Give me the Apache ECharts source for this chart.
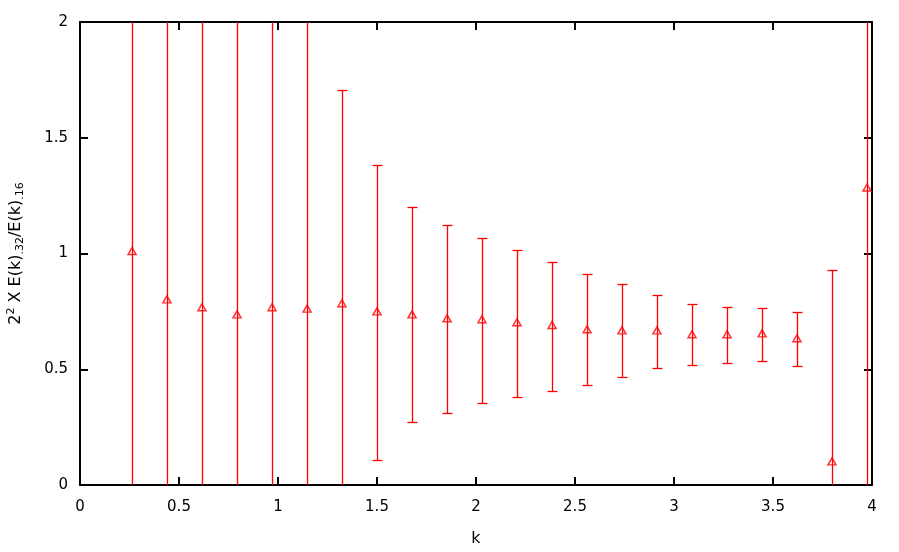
<!DOCTYPE html>
<html>
<head>
<meta charset="utf-8">
<script src="https://cdn.jsdelivr.net/npm/echarts@6/dist/echarts.min.js"></script>
<style>html,body{margin:0;padding:0;background:#fff}#c{width:899px;height:552px}</style>
</head>
<body>
<div id="c"></div>
<script>
// k positions
const kValues = [0.263, 0.439, 0.616, 0.793, 0.970, 1.147, 1.323, 1.500, 1.677, 1.854, 2.030,
                 2.207, 2.384, 2.561, 2.737, 2.914, 3.091, 3.268, 3.445, 3.621, 3.798, 3.975];
// ratio values
const ratioValues = [1.011, 0.802, 0.768, 0.737, 0.768, 0.762, 0.785, 0.750, 0.737, 0.720, 0.716,
                     0.703, 0.691, 0.673, 0.668, 0.668, 0.651, 0.651, 0.655, 0.634, 0.102, 1.285];
// error bar bounds
const lowerValues = [-2.5, -1.6, -1.3, -1.1, -0.9, -0.7, -0.135, 0.110, 0.270, 0.313, 0.356,
                     0.382, 0.408, 0.434, 0.468, 0.507, 0.520, 0.529, 0.537, 0.516, -0.726, -0.5];
const upperValues = [4.5, 3.2, 2.8, 2.6, 2.4, 2.2, 1.705, 1.384, 1.203, 1.125, 1.069,
                     1.017, 0.965, 0.913, 0.870, 0.822, 0.784, 0.771, 0.766, 0.749, 0.930, 3.1];
const xTicks = {min: 0, max: 4, interval: 0.5};
const yTicks = {min: 0, max: 2, interval: 0.5};

const RED = '#ff0000';
const FONT = 'DejaVu Sans';
const chart = echarts.init(document.getElementById('c'), null, {renderer: 'canvas'});

const errData = kValues.map((k, i) => [k, lowerValues[i], upperValues[i]]);
const ptData = kValues.map((k, i) => [k, ratioValues[i]]);

function axisCommon(extra) {
  return Object.assign({
    type: 'value',
    axisLine: {show: true, onZero: false, lineStyle: {color: '#000', width: 2}},
    axisTick: {show: true, inside: true, length: 8, lineStyle: {color: '#000', width: 2}},
    splitLine: {show: false},
    axisLabel: {color: '#000', fontFamily: FONT, fontSize: 15}
  }, extra);
}

chart.setOption({
  animation: false,
  backgroundColor: '#fff',
  grid: {left: 80, right: 27, top: 22, bottom: 67, containLabel: false, outerBoundsMode: 'none'},
  xAxis: [
    axisCommon(Object.assign({position: 'bottom', name: 'k', nameLocation: 'middle', nameGap: 46,
      nameTextStyle: {color: '#000', fontFamily: FONT, fontSize: 16},
      axisLabel: {color: '#000', fontFamily: FONT, fontSize: 15, margin: 15}}, xTicks)),
    axisCommon(Object.assign({position: 'top', axisLabel: {show: false}}, xTicks))
  ],
  yAxis: [
    axisCommon(Object.assign({position: 'left',
      name: '{n|2}{sup|2}{n| X E(k)}{sub|.32}{n|/E(k)}{sub|.16}',
      nameLocation: 'middle', nameRotate: 90, nameGap: 54,
      nameTextStyle: {
        color: '#000', fontFamily: FONT, fontSize: 16,
        rich: {
          n: {fontFamily: FONT, fontSize: 16, color: '#000', lineHeight: 20},
          sup: {fontFamily: FONT, fontSize: 11, color: '#000', lineHeight: 11, verticalAlign: 'top'},
          sub: {fontFamily: FONT, fontSize: 11, color: '#000', lineHeight: 11, verticalAlign: 'bottom'}
        }
      },
      axisLabel: {color: '#000', fontFamily: FONT, fontSize: 15, margin: 12}}, yTicks)),
    axisCommon(Object.assign({position: 'right', axisLabel: {show: false}}, yTicks))
  ],
  series: [
    {
      type: 'custom',
      xAxisIndex: 0, yAxisIndex: 0,
      clip: true,
      data: errData,
      encode: {x: 0, y: [1, 2]},
      renderItem: function (params, api) {
        const x = api.value(0);
        const lo = api.coord([x, api.value(1)]);
        const hi = api.coord([x, api.value(2)]);
        const cx = Math.round(lo[0]) + 0.5;
        const ly = Math.round(lo[1]) + 0.5;
        const hy = Math.round(hi[1]) + 0.5;
        const hw = 5;
        const style = {stroke: RED, lineWidth: 1.3};
        return {
          type: 'group',
          children: [
            {type: 'line', shape: {x1: cx, y1: ly, x2: cx, y2: hy}, style: style},
            {type: 'line', shape: {x1: cx - hw, y1: ly, x2: cx + hw, y2: ly}, style: style},
            {type: 'line', shape: {x1: cx - hw, y1: hy, x2: cx + hw, y2: hy}, style: style}
          ]
        };
      },
      z: 2
    },
    {
      type: 'scatter',
      xAxisIndex: 0, yAxisIndex: 0,
      data: ptData,
      symbol: 'triangle',
      symbolSize: [8, 7],
      itemStyle: {color: 'rgba(0,0,0,0)', borderColor: RED, borderWidth: 1.5},
      z: 3
    }
  ]
});
</script>
</body>
</html>
